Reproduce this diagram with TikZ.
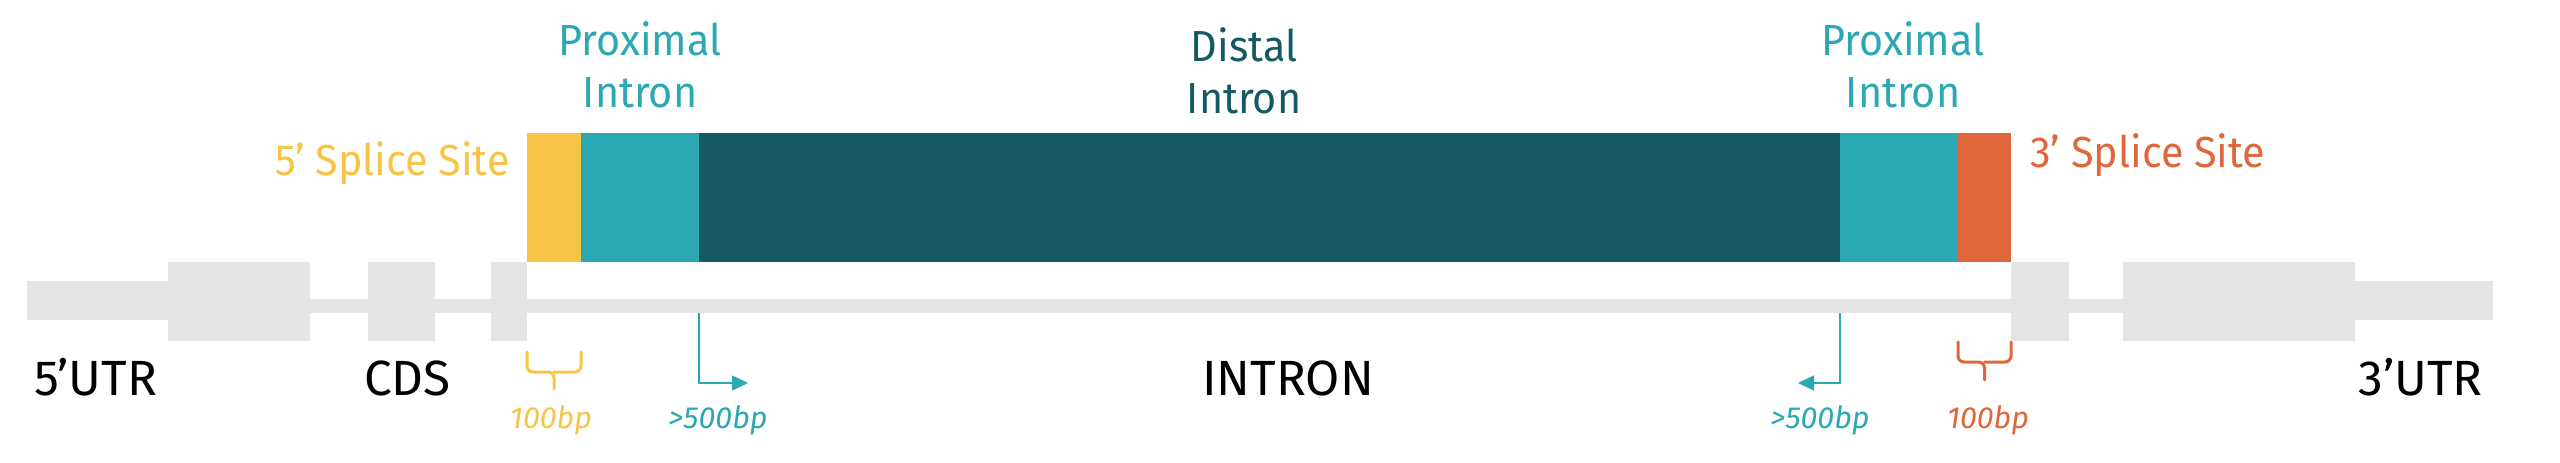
\documentclass[tikz,border=0pt]{standalone}
\usepackage{fontspec}
\setmainfont{Fira Sans}
\newfontfamily\titlefont[FakeStretch=0.95]{Fira Sans}
\usetikzlibrary{arrows.meta}
\definecolor{cyel}{HTML}{F8C446}
\definecolor{cteal}{HTML}{2CA8B3}
\definecolor{cdark}{HTML}{155A63}
\definecolor{corange}{HTML}{E0663B}
\definecolor{cgray}{HTML}{E5E5E5}
\begin{document}
\begin{tikzpicture}[x=1pt,y=-1pt,
  blk/.style={inner sep=0, outer sep=0, anchor=north west, draw=none},
  gene/.style={blk, fill=cgray},
  seg/.style={blk, minimum height=129},
  title/.style={font=\titlefont\fontsize{43.5}{52}\selectfont, align=center, inner sep=0},
  biglab/.style={font=\fontsize{49.5}{56}\selectfont, inner sep=0, text=black},
  bplab/.style={font=\fontsize{30.5}{34}\selectfont\itshape, inner sep=0, anchor=base},
  bracestyle/.style={line width=3, rounded corners=6, line cap=round},
  arr/.style={line width=1.6, -{Triangle[length=16, width=15]}, draw=cteal}]
\useasboundingbox (0,0) rectangle (2560,463);
% gene model
\node[gene, minimum width=2187, minimum height=14] (iline) at (168,299) {};
\node[gene, minimum width=141, minimum height=39] (utr5) at (27,281) {};
\node[gene, minimum width=142, minimum height=79] (ex1) at (168,262) {};
\node[gene, minimum width=67, minimum height=79] (cds) at (368,262) {};
\node[gene, minimum width=36, minimum height=79] (ex3) at (491,262) {};
\node[gene, minimum width=58, minimum height=79] (ex4) at (2011,262) {};
\node[gene, minimum width=232, minimum height=79] (ex5) at (2123,262) {};
\node[gene, minimum width=138, minimum height=39] (utr3) at (2355,281) {};
% intron segments
\node[seg, fill=cyel, minimum width=54] (ss5) at (527,133) {};
\node[seg, fill=cteal, minimum width=118] (px1) at (581,133) {};
\node[seg, fill=cdark, minimum width=1141] (dist) at (699,133) {};
\node[seg, fill=cteal, minimum width=118] (px2) at (1840,133) {};
\node[seg, fill=corange, minimum width=53] (ss3) at (1958,133) {};
% titles
\node[title, text=cteal, anchor=base] (tpx1) at (640,107) {Proximal\\Intron};
\node[title, text=cdark, anchor=base] (tdist) at (1244,113) {Distal\\Intron};
\node[title, text=cteal, anchor=base] (tpx2) at (1903,107) {Proximal\\Intron};
\node[title, text=cyel, anchor=base east] (tss5) at (510,175) {5’ Splice Site};
\node[title, text=corange, anchor=base west] (tss3) at (2030,167) {3’ Splice Site};
% bottom labels
\node[biglab, anchor=base west] (l5utr) at (34,395) {5’UTR};
\node[biglab, anchor=base west] (lcds) at (364,395) {CDS};
\node[biglab, anchor=base] (lintron) at (1288,395) {INTRON};
\node[biglab, anchor=base east] (l3utr) at (2483,395) {3’UTR};
% braces
\draw[bracestyle, cyel] ([yshift=-90pt]ss5.south west) |- ([yshift=-110pt]ss5.south) -- ([yshift=-127pt]ss5.south);
\draw[bracestyle, cyel] ([yshift=-90pt]ss5.south east) |- ([yshift=-110pt]ss5.south);
\draw[bracestyle, corange] ([yshift=-80pt]ss3.south west) |- ([yshift=-100pt]ss3.south) -- ([yshift=-118pt]ss3.south);
\draw[bracestyle, corange] ([yshift=-80pt]ss3.south east) |- ([yshift=-100pt]ss3.south);
% arrows
\coordinate (a1) at (748,383);
\coordinate (a2) at (1798,383);
\draw[arr] (iline.south -| dist.west) |- (a1);
\draw[arr] (iline.south -| px2.west) |- (a2);
% bp labels
\node[bplab, text=cyel] (b1) at (551,428) {100bp};
\node[bplab, text=cteal] (b2) at (718,428) {>500bp};
\node[bplab, text=cteal] (b3) at (1820,428) {>500bp};
\node[bplab, text=corange] (b4) at (1988,428) {100bp};
\end{tikzpicture}
\end{document}
